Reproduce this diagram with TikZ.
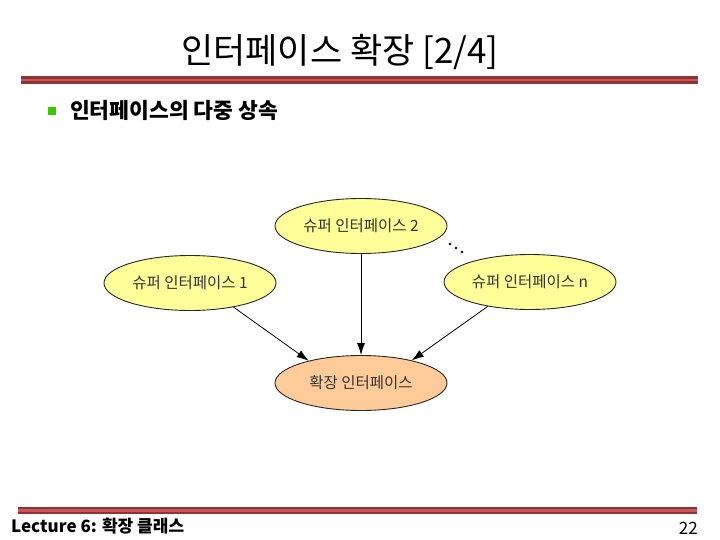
\documentclass[tikz,border=0pt]{standalone}
\usepackage{fontspec}
\setmainfont{Noto Sans CJK KR}
\usetikzlibrary{shapes.geometric,arrows.meta}
\definecolor{barouter}{HTML}{8E3436}
\definecolor{barinner}{HTML}{C4585A}
\definecolor{bulletgreen}{HTML}{33CC00}
\definecolor{superfill}{HTML}{FFFF99}
\definecolor{extfill}{HTML}{FFCC99}
\definecolor{nodetext}{HTML}{333333}
\tikzset{
  bubble/.style={ellipse, draw=black!85, line width=0.9pt, minimum width=172pt, minimum height=55pt, inner sep=0pt, text=nodetext, font=\fontsize{15.5}{18}\selectfont},
  superbox/.style={bubble, fill=superfill},
  extbox/.style={bubble, fill=extfill},
  inherit/.style={draw=black, line width=0.8pt, -{Latex[length=12pt,width=8pt]}},
  barline/.style={line width=7.5pt, barouter},
  barcore/.style={line width=2.5pt, barinner},
  dotmark/.style={circle, fill=black, inner sep=0pt, minimum size=2.8pt}
}
\begin{document}
\begin{tikzpicture}[x=1pt,y=-1pt]
\useasboundingbox (0,0) rectangle (720,540);
% title
\node (title) at (340,52) {\fontsize{35}{40}\selectfont 인터페이스 확장 [2/4]};
\draw[barline] (21,80) -- (698,80);
\draw[barcore] (21,80) -- (698,80);
% bullet
\node[fill=bulletgreen, minimum size=8.5pt, inner sep=0pt] (bullet) at (52,111) {};
\node[anchor=west, inner sep=0pt] (btext) at (70,110) {\fontsize{21.5}{24}\selectfont\bfseries 인터페이스의 다중 상속};
% nodes
\node[superbox] (s2) at (361,226) {슈퍼 인터페이스 2};
\node[superbox] (s1) at (190,283) {슈퍼 인터페이스 1};
\node[superbox] (sn) at (530,282) {슈퍼 인터페이스 n};
\node[extbox] (ext) at (361,383) {확장 인터페이스};
% dots
\node[dotmark] (d1) at (450,244) {};
\node[dotmark] (d2) at (456,248) {};
\node[dotmark] (d3) at (462,252) {};
% connectors
\draw[inherit] (s1.-29) -- (ext.157);
\draw[inherit] (s2.south) -- (ext.north);
\draw[inherit] (sn.210) -- (ext.24);
% footer
\draw[barline] (18,510.5) -- (697,510.5);
\draw[barcore] (18,510.5) -- (697,510.5);
\node[anchor=west, inner sep=0pt] (foot) at (11,526) {\fontsize{17}{20}\selectfont\bfseries Lecture 6: 확장 클래스};
\node[anchor=east, inner sep=0pt] (page) at (698,528) {\fontsize{17}{20}\selectfont 22};
\end{tikzpicture}
\end{document}
